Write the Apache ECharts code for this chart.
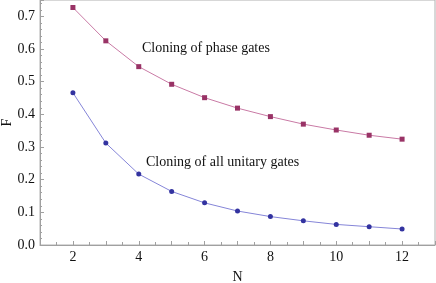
<!DOCTYPE html>
<html><head><meta charset="utf-8">
<script src="https://cdn.jsdelivr.net/npm/echarts@6/dist/echarts.min.js"></script>
<style>html,body{margin:0;padding:0;background:#fff}#c{width:436px;height:283px}</style>
</head><body><div id="c"></div>
<script>
var N = [2,3,4,5,6,7,8,9,10,11,12];
var phaseF = [0.727,0.625,0.546,0.492,0.451,0.419,0.393,0.370,0.352,0.336,0.324];
var unitaryF = [0.466,0.312,0.217,0.164,0.129,0.104,0.087,0.074,0.063,0.056,0.049];
var phaseLabel = 'Cloning of phase gates';
var unitaryLabel = 'Cloning of all unitary gates';

function pairs(xs, ys){ return xs.map(function(x,i){return [x, ys[i]];}); }
var font = 'Liberation Serif';
var chart = echarts.init(document.getElementById('c'));
chart.setOption({
  animation:false,
  grid:{left:40,right:1,top:0,bottom:38,containLabel:false,outerBoundsMode:'none',show:true,borderColor:'#b0b0b0',borderWidth:1},
  xAxis:{type:'value',min:1,max:13,interval:1,name:'N',nameLocation:'middle',nameGap:25,nameMoveOverlap:false,
    nameTextStyle:{fontFamily:font,fontSize:14,color:'#111'},
    axisLine:{lineStyle:{color:'#a0a0a0'}},
    axisTick:{inside:true,length:4,lineStyle:{color:'#a0a0a0'}},
    minorTick:{show:true,splitNumber:2,length:3,lineStyle:{color:'#a0a0a0'}},
    splitLine:{show:false},
    axisLabel:{fontFamily:font,fontSize:14,color:'#111',margin:5,
      formatter:function(v){return (v%2===0 && v>=2 && v<=12)? String(v):'';}}},
  yAxis:{type:'value',min:0,max:0.75,interval:0.1,name:'F',nameLocation:'middle',nameGap:26,nameRotate:90,nameMoveOverlap:false,
    nameTextStyle:{fontFamily:font,fontSize:14,color:'#111'},
    axisLine:{lineStyle:{color:'#a0a0a0'}},
    axisTick:{inside:true,length:4,lineStyle:{color:'#a0a0a0'}},
    minorTick:{show:true,splitNumber:5,length:2,lineStyle:{color:'#a0a0a0'}},
    splitLine:{show:false},
    axisLabel:{fontFamily:font,fontSize:14,color:'#111',margin:5,
      formatter:function(v){var r=Math.round(v*10)/10; return Math.abs(r-v)<1e-6 ? r.toFixed(1):'';}}},
  series:[
    {type:'line',data:pairs(N,phaseF),symbol:'rect',symbolSize:5,
      lineStyle:{color:'#c97aa5',width:1},itemStyle:{color:'#993366'}},
    {type:'line',data:pairs(N,unitaryF),symbol:'circle',symbolSize:5,
      lineStyle:{color:'#8585d8',width:1},itemStyle:{color:'#3333a0'}}
  ],
  graphic:[
    {type:'text',left:142,top:41,style:{text:phaseLabel,font:'14px "Liberation Serif"',fill:'#111'}},
    {type:'text',left:146,top:155,style:{text:unitaryLabel,font:'14px "Liberation Serif"',fill:'#111'}}
  ]
});
</script></body></html>
